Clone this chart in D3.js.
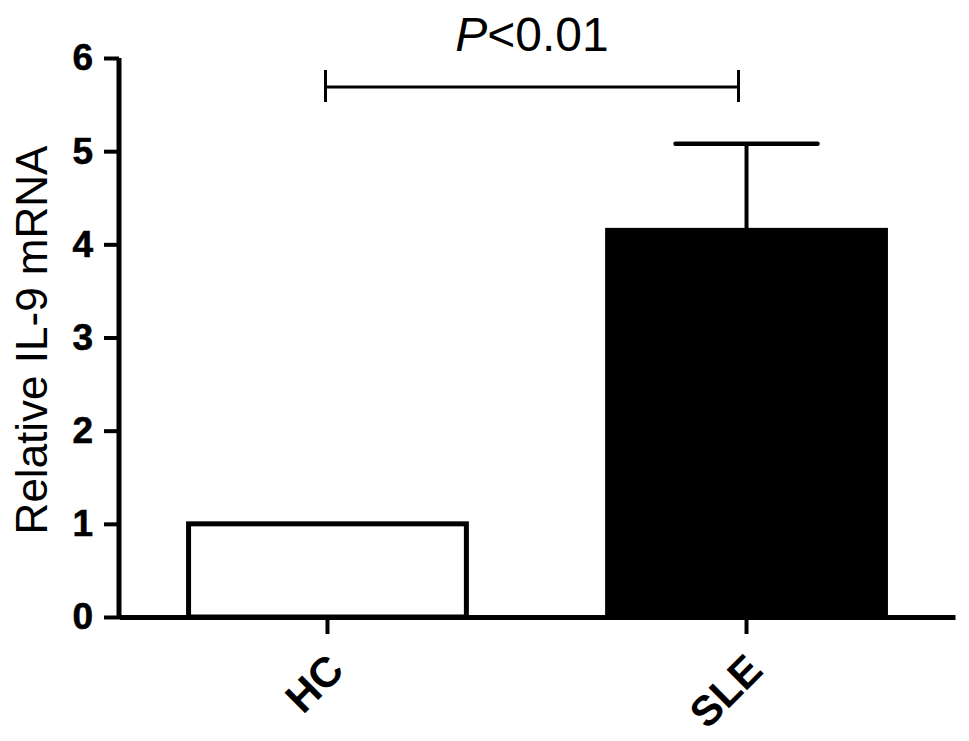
<!DOCTYPE html>
<html><head><meta charset="utf-8">
<script src="https://cdn.jsdelivr.net/npm/d3@7"></script>
<style>body{margin:0;background:#fff}svg{display:block}</style>
</head><body>
<script>
const categories = ["HC", "SLE"];
const means = [1.0, 4.15];
const sems = [0, 0.93];
const fills = ["#ffffff", "#000000"];
const yTicks = [0, 1, 2, 3, 4, 5, 6];
const yTitle = "Relative IL-9 mRNA";
const sigText = "<0.01";

const W = 969, H = 741;
const svg = d3.select("body").append("svg").attr("width", W).attr("height", H);
const font = "Arial, 'Liberation Sans', Helvetica, sans-serif";

const x = d3.scaleBand().domain(categories).range([119, 955]).paddingInner(0.337).paddingOuter(0.166);
const y = d3.scaleLinear().domain([0, 6]).range([617, 58]);

// bars
svg.selectAll("rect.bar").data(categories).enter().append("rect")
  .attr("x", d => x(d)).attr("width", x.bandwidth())
  .attr("y", (d, i) => y(means[i])).attr("height", (d, i) => y(0) - y(means[i]))
  .attr("fill", (d, i) => fills[i]).attr("stroke", "#000").attr("stroke-width", 5);

// error bars
const capHalf = 71;
categories.forEach((c, i) => {
  if (sems[i] <= 0) return;
  const cx = x(c) + x.bandwidth() / 2;
  svg.append("line").attr("x1", cx).attr("x2", cx).attr("y1", y(means[i])).attr("y2", y(means[i] + sems[i]))
    .attr("stroke", "#000").attr("stroke-width", 4);
  svg.append("line").attr("x1", cx - capHalf).attr("x2", cx + capHalf).attr("y1", y(means[i] + sems[i])).attr("y2", y(means[i] + sems[i]))
    .attr("stroke", "#000").attr("stroke-width", 4.5).attr("stroke-linecap", "round");
});

// y axis
const yAxis = svg.append("g").attr("transform", "translate(119,0)")
  .call(d3.axisLeft(y).tickValues(yTicks).tickFormat(d3.format("d")).tickSize(15).tickSizeOuter(0).tickPadding(11));
yAxis.attr("font-size", null).attr("font-family", null);
yAxis.select(".domain").attr("stroke-width", 5).attr("d", `M0,${y(6)}V${y(0)+2}`);
yAxis.selectAll(".tick line").attr("stroke-width", 4);
yAxis.selectAll(".tick text").style("font-family", font).style("font-weight", "bold").style("font-size", "37px")
  .attr("fill", "#000").attr("stroke", "#000").attr("stroke-width", 0.6);

// x axis
const xAxis = svg.append("g").attr("transform", `translate(0,${y(0)})`)
  .call(d3.axisBottom(x).tickSize(17).tickSizeOuter(0).tickFormat(""));
xAxis.select(".domain").attr("stroke-width", 5);
xAxis.selectAll(".tick line").attr("stroke-width", 4);
categories.forEach(c => {
  const cx = x(c) + x.bandwidth() / 2;
  svg.append("text").attr("transform", `translate(${cx - 3},${651}) rotate(-45)`)
    .attr("text-anchor", "end").attr("dy", "0.72em")
    .style("font-family", font).style("font-weight", "bold").style("font-size", "42px").text(c);
});

// y title
svg.append("text").attr("transform", `translate(47,${340}) rotate(-90)`)
  .attr("text-anchor", "middle").style("font-family", font).style("font-size", "44px").text(yTitle);

// significance bracket
const bx1 = x("HC") + x.bandwidth() / 2 - 2, bx2 = x("SLE") + x.bandwidth() / 2 - 8;
const by = 87;
svg.append("line").attr("x1", bx1).attr("x2", bx2).attr("y1", by).attr("y2", by).attr("stroke", "#000").attr("stroke-width", 3);
[bx1, bx2].forEach(bx => svg.append("line").attr("x1", bx).attr("x2", bx).attr("y1", by - 17).attr("y2", by + 15).attr("stroke", "#000").attr("stroke-width", 3));
const t = svg.append("text").attr("x", (bx1 + bx2) / 2).attr("y", 51).attr("text-anchor", "middle")
  .style("font-family", font).style("font-size", "48px");
t.append("tspan").attr("font-style", "italic").text("P");
t.append("tspan").text(sigText);
</script>
</body></html>
